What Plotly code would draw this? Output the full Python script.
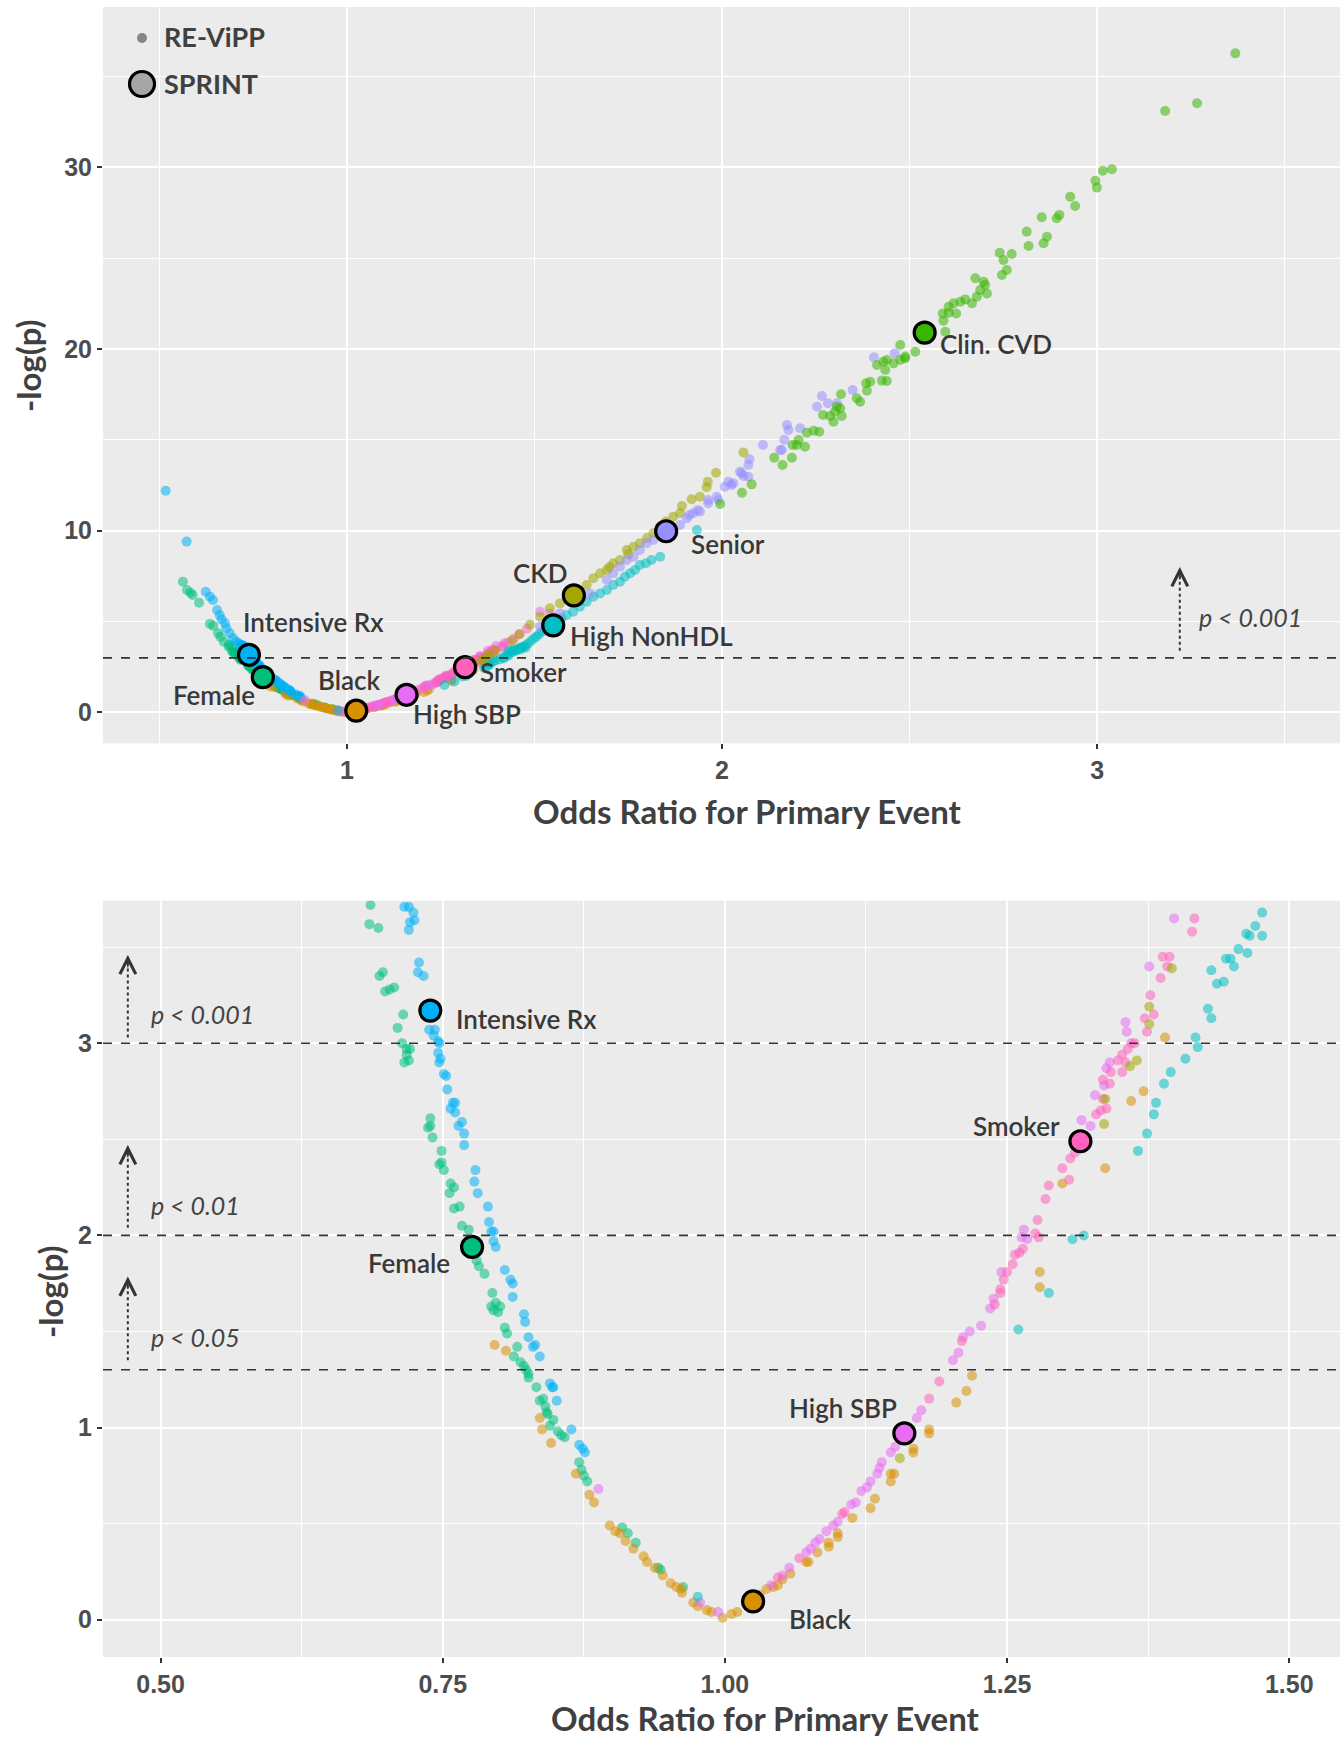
import plotly.graph_objects as go

# ---------------- data ----------------
intrx_or = [0.517, 0.573, 0.624, 0.635, 0.643, 0.654, 0.661, 0.666, 0.675, 0.679, 0.688, 0.697, 0.705, 0.712,
            0.716, 0.720, 0.724, 0.721, 0.725, 0.720, 0.729, 0.728, 0.733, 0.738, 0.743, 0.742, 0.746, 0.747,
            0.746, 0.748, 0.747, 0.751, 0.753, 0.754, 0.759, 0.761, 0.757, 0.761, 0.764, 0.767, 0.769, 0.769,
            0.779, 0.778, 0.781, 0.790, 0.791, 0.793, 0.795, 0.795, 0.797, 0.805, 0.810, 0.812, 0.812, 0.822,
            0.823, 0.826, 0.830, 0.832, 0.836, 0.845, 0.847, 0.848, 0.851, 0.864, 0.871, 0.874, 0.876]
intrx_lp = [12.2, 9.40, 6.64, 6.37, 6.19, 5.64, 5.36, 5.12, 4.90, 4.63, 4.35, 4.08, 3.90, 3.80,
            3.71, 3.71, 3.68, 3.63, 3.64, 3.59, 3.42, 3.37, 3.35, 3.07, 3.07, 3.04, 3.01, 3.00,
            2.95, 2.92, 2.90, 2.84, 2.83, 2.76, 2.69, 2.69, 2.66, 2.64, 2.57, 2.59, 2.53, 2.47,
            2.34, 2.28, 2.22, 2.15, 2.07, 2.02, 2.02, 1.97, 1.94, 1.82, 1.77, 1.75, 1.68, 1.59,
            1.55, 1.47, 1.42, 1.43, 1.37, 1.23, 1.21, 1.21, 1.14, 0.99, 0.91, 0.89, 0.87]

female_or = [0.563, 0.574, 0.583, 0.589, 0.606, 0.635, 0.644, 0.657, 0.663, 0.672, 0.686, 0.685, 0.693,
             0.697, 0.694, 0.699, 0.703, 0.707, 0.715, 0.710, 0.714, 0.718, 0.721, 0.718, 0.716, 0.720,
             0.739, 0.737, 0.739, 0.741, 0.749, 0.749, 0.747, 0.751, 0.757, 0.760, 0.756, 0.760, 0.765,
             0.767, 0.773, 0.780, 0.782, 0.787, 0.794, 0.793, 0.797, 0.801, 0.799, 0.795, 0.805, 0.807,
             0.816, 0.813, 0.819, 0.822, 0.824, 0.826, 0.826, 0.833, 0.836, 0.839, 0.841, 0.842, 0.843,
             0.848, 0.845, 0.852, 0.855, 0.858, 0.871, 0.873, 0.875, 0.878, 0.909, 0.914, 0.921, 0.941,
             0.943, 0.963]
female_lp = [7.19, 6.74, 6.59, 6.46, 6.04, 4.87, 4.76, 4.35, 4.17, 3.89, 3.72, 3.62, 3.60,
             3.37, 3.35, 3.27, 3.28, 3.29, 3.15, 3.08, 3.00, 2.97, 2.97, 2.94, 2.90, 2.91,
             2.61, 2.56, 2.57, 2.51, 2.44, 2.38, 2.37, 2.34, 2.27, 2.25, 2.22, 2.14, 2.15,
             2.05, 2.03, 1.87, 1.84, 1.80, 1.70, 1.63, 1.65, 1.63, 1.60, 1.61, 1.52, 1.49,
             1.42, 1.37, 1.34, 1.32, 1.30, 1.28, 1.26, 1.21, 1.14, 1.15, 1.11, 1.08, 1.07,
             1.04, 1.01, 0.98, 0.96, 0.95, 0.82, 0.78, 0.75, 0.72, 0.48, 0.45, 0.40, 0.27,
             0.26, 0.17]

black_or = [0.796, 0.806, 0.836, 0.838, 0.846, 0.868, 0.880, 0.884, 0.898, 0.903, 0.907, 0.912, 0.919,
            0.928, 0.931, 0.938, 0.945, 0.952, 0.957, 0.962, 0.961, 0.972, 0.976, 0.984, 0.988, 0.998,
            1.006, 1.011, 1.031, 1.037, 1.043, 1.047, 1.051, 1.058, 1.072, 1.074, 1.082, 1.092, 1.092,
            1.100, 1.100, 1.113, 1.129, 1.133, 1.147, 1.150, 1.147, 1.167, 1.167, 1.181, 1.181, 1.205,
            1.214, 1.219, 1.279, 1.279, 1.299, 1.337, 1.360, 1.371, 1.390]
black_lp = [1.43, 1.40, 1.05, 0.99, 0.92, 0.76, 0.65, 0.61, 0.49, 0.46, 0.45, 0.41, 0.37,
            0.33, 0.30, 0.27, 0.23, 0.19, 0.17, 0.14, 0.16, 0.09, 0.07, 0.05, 0.04, 0.01,
            0.03, 0.04, 0.13, 0.16, 0.17, 0.18, 0.21, 0.24, 0.30, 0.30, 0.35, 0.40, 0.38,
            0.45, 0.43, 0.53, 0.58, 0.63, 0.76, 0.76, 0.72, 0.89, 0.87, 0.99, 0.97, 1.13,
            1.19, 1.27, 1.81, 1.73, 2.27, 2.35, 2.70, 2.75, 3.03]

highsbp_or = [0.888, 0.978, 0.994, 1.041, 1.051, 1.057, 1.072, 1.076, 1.080, 1.084, 1.090, 1.096, 1.100,
              1.112, 1.116, 1.121, 1.126, 1.129, 1.135, 1.137, 1.139, 1.147, 1.151, 1.170, 1.174, 1.202,
              1.207, 1.211, 1.217, 1.227, 1.235, 1.238, 1.245, 1.263, 1.265, 1.268, 1.316, 1.324, 1.328,
              1.336, 1.338, 1.341, 1.355, 1.356, 1.376, 1.398, 1.420, 1.515, 1.541]
highsbp_lp = [0.68, 0.09, 0.04, 0.18, 0.23, 0.27, 0.35, 0.37, 0.40, 0.42, 0.46, 0.49, 0.51,
              0.60, 0.61, 0.67, 0.69, 0.72, 0.76, 0.79, 0.82, 0.87, 0.90, 1.05, 1.09, 1.35,
              1.39, 1.47, 1.50, 1.53, 1.62, 1.67, 1.81, 1.99, 2.03, 1.98, 2.60, 2.57, 2.73,
              2.78, 2.87, 2.90, 3.11, 3.06, 3.40, 3.65, 3.80, 5.54, 5.45]

smoker_or = [1.047, 1.066, 1.104, 1.106, 1.181, 1.190, 1.210, 1.239, 1.244, 1.244, 1.247, 1.250, 1.255,
             1.257, 1.261, 1.264, 1.275, 1.278, 1.277, 1.284, 1.287, 1.305, 1.299, 1.306, 1.310, 1.329,
             1.333, 1.338, 1.335, 1.335, 1.341, 1.342, 1.352, 1.355, 1.348, 1.352, 1.357, 1.360, 1.363,
             1.374, 1.372, 1.380, 1.377, 1.386, 1.392, 1.388, 1.394, 1.414, 1.416, 1.430, 1.445, 1.460,
             1.480]
smoker_lp = [0.22, 0.32, 0.55, 0.56, 1.15, 1.24, 1.45, 1.64, 1.72, 1.70, 1.77, 1.81, 1.85,
             1.90, 1.91, 1.93, 2.01, 1.99, 2.08, 2.19, 2.26, 2.29, 2.35, 2.40, 2.43, 2.63,
             2.65, 2.66, 2.71, 2.81, 2.79, 2.85, 2.85, 2.90, 2.91, 2.94, 2.97, 3.00, 3.00,
             3.06, 3.13, 3.15, 3.25, 3.34, 3.40, 3.45, 3.45, 3.58, 3.65, 3.85, 4.05, 4.30,
             4.60]

nonhdl_or = [0.976, 1.260, 1.287, 1.308, 1.318, 1.366, 1.374, 1.380, 1.382, 1.389, 1.395, 1.408, 1.419,
             1.417, 1.428, 1.431, 1.436, 1.442, 1.431, 1.451, 1.444, 1.448, 1.463, 1.455, 1.462, 1.465,
             1.476, 1.470, 1.476, 1.482, 1.490, 1.497, 1.505, 1.512, 1.520, 1.528, 1.540, 1.560, 1.572,
             1.586, 1.603, 1.621, 1.639, 1.657, 1.675, 1.693, 1.710, 1.728, 1.741, 1.755, 1.768, 1.781,
             1.797, 1.812, 1.835, 1.933]
nonhdl_lp = [0.12, 1.51, 1.70, 1.98, 2.00, 2.44, 2.53, 2.63, 2.69, 2.79, 2.85, 2.92, 2.98,
             3.03, 3.18, 3.13, 3.31, 3.32, 3.38, 3.40, 3.44, 3.44, 3.47, 3.49, 3.57, 3.56,
             3.56, 3.61, 3.68, 3.78, 3.92, 4.05, 4.17, 4.30, 4.44, 4.58, 4.70, 5.00, 5.18,
             5.36, 5.54, 5.82, 6.09, 6.37, 6.55, 6.74, 7.01, 7.19, 7.47, 7.66, 7.84, 8.11,
             8.21, 8.39, 8.57, 10.04]

ckd_or = [1.155, 1.336, 1.337, 1.359, 1.365, 1.376, 1.376, 1.396, 1.440, 1.460, 1.488, 1.515, 1.541,
          1.568, 1.620, 1.639, 1.657, 1.675, 1.693, 1.700, 1.710, 1.728, 1.746, 1.750, 1.764, 1.781,
          1.800, 1.817, 1.835, 1.850, 1.870, 1.888, 1.893, 1.919, 1.941, 1.959, 1.962, 1.984, 2.057]
ckd_lp = [0.84, 2.58, 2.71, 2.88, 2.91, 3.10, 3.19, 3.39, 3.95, 4.30, 4.82, 5.27, 5.73,
          6.00, 6.70, 7.01, 7.38, 7.66, 7.84, 8.00, 8.21, 8.39, 8.94, 8.70, 9.12, 9.31,
          9.60, 9.86, 10.22, 10.50, 10.77, 10.96, 11.36, 11.73, 11.87, 12.39, 12.70, 13.19, 14.31]

senior_or = [1.515, 1.541, 1.568, 1.603, 1.648, 1.693, 1.710, 1.728, 1.746, 1.764, 1.781, 1.799, 1.817,
             1.888, 1.906, 1.913, 1.923, 1.935, 1.941, 1.963, 1.963, 1.986, 1.990, 2.007, 2.017, 2.025,
             2.030, 2.048, 2.052, 2.057, 2.070, 2.070, 2.073, 2.109, 2.155, 2.159, 2.166, 2.173, 2.177,
             2.208, 2.253, 2.266, 2.282, 2.306, 2.348, 2.405, 2.460]
senior_lp = [4.72, 5.09, 5.45, 6.00, 6.55, 7.29, 7.66, 8.02, 8.39, 8.57, 8.94, 9.31, 9.49,
             10.31, 10.68, 10.86, 10.96, 11.14, 11.05, 11.51, 11.69, 11.87, 11.69, 12.42, 12.70, 12.51,
             12.61, 13.25, 13.16, 13.01, 12.97, 13.62, 13.93, 14.72, 14.44, 14.44, 15.00, 15.82, 15.54,
             15.64, 16.82, 17.41, 17.01, 17.01, 17.74, 19.54, 19.76]

cvd_or = [1.995, 2.053, 2.079, 2.139, 2.161, 2.186, 2.188, 2.199, 2.221, 2.204, 2.226, 2.244, 2.259,
          2.269, 2.288, 2.301, 2.319, 2.297, 2.315, 2.306, 2.317, 2.359, 2.368, 2.386, 2.395, 2.384,
          2.426, 2.439, 2.435, 2.430, 2.413, 2.439, 2.457, 2.475, 2.488, 2.515, 2.475, 2.488, 2.595,
          2.590, 2.604, 2.588, 2.624, 2.604, 2.617, 2.635, 2.648, 2.666, 2.675, 2.688, 2.697, 2.706,
          2.679, 2.701, 2.740, 2.750, 2.759, 2.746, 2.772, 2.812, 2.817, 2.857, 2.866, 2.852, 2.892,
          2.899, 2.941, 2.928, 2.995, 2.999, 3.015, 3.039, 3.181, 3.266, 3.368]
cvd_lp = [11.47, 12.09, 12.55, 14.02, 13.62, 14.02, 14.72, 14.72, 14.62, 14.99, 15.39, 15.50, 15.45,
          16.37, 16.31, 16.55, 16.31, 16.00, 16.74, 16.82, 17.51, 17.29, 17.10, 17.71, 18.20, 18.11,
          18.26, 18.24, 18.84, 19.30, 19.12, 19.39, 19.21, 19.39, 19.58, 19.85, 20.22, 19.49, 20.95,
          21.56, 22.00, 21.95, 21.95, 22.33, 22.51, 22.60, 22.73, 22.51, 23.89, 23.24, 23.70, 23.06,
          22.88, 23.53, 25.30, 24.90, 24.35, 24.07, 25.23, 26.46, 25.67, 25.82, 26.18, 27.25, 27.19,
          27.38, 27.87, 28.38, 29.26, 28.88, 29.81, 29.89, 33.10, 33.52, 36.27]

categories = ["Female", "Black", "Intensive Rx", "High SBP", "Smoker", "High NonHDL", "CKD", "Senior", "Clin. CVD"]
revipp_or = [female_or, black_or, intrx_or, highsbp_or, smoker_or, nonhdl_or, ckd_or, senior_or, cvd_or]
revipp_lp = [female_lp, black_lp, intrx_lp, highsbp_lp, smoker_lp, nonhdl_lp, ckd_lp, senior_lp, cvd_lp]

sprint_cat = ["Intensive Rx", "Female", "Black", "High SBP", "Smoker", "High NonHDL", "CKD", "Senior", "Clin. CVD"]
sprint_or = [0.739, 0.776, 1.025, 1.159, 1.315, 1.550, 1.605, 1.851, 2.540]
sprint_lp = [3.17, 1.94, 0.095, 0.97, 2.49, 4.79, 6.44, 9.97, 20.9]

threshold_labels = ["p < 0.05", "p < 0.01", "p < 0.001"]
threshold_lp = [1.30103, 2.0, 3.0]

# ---------------- styling ----------------
COLORS = {
    "Black": "#D89000", "CKD": "#A3A500", "Clin. CVD": "#39B600", "Female": "#00BF7D",
    "High NonHDL": "#00BFC4", "Intensive Rx": "#00B0F6", "Senior": "#9590FF",
    "High SBP": "#E76BF3", "Smoker": "#FF62BC",
}
TXT = "#383838"
W, H = 1343, 1739
ML, MR, MT, MB = 103, 3, 7, 82
PW, PH = W - ML - MR, H - MT - MB


def px(x):
    return (x - ML) / PW


def py(y):
    return (H - MB - y) / PH


fig = go.Figure()

for ax_sfx in ["", "2"]:
    for cat, xs, ys in zip(categories, revipp_or, revipp_lp):
        fig.add_trace(go.Scatter(
            x=xs, y=ys, mode="markers", xaxis="x" + ax_sfx, yaxis="y" + ax_sfx,
            marker=dict(size=10, color=COLORS[cat], opacity=0.55, line=dict(width=0)),
            showlegend=False, hoverinfo="x+y", name=cat))
    fig.add_trace(go.Scatter(
        x=sprint_or, y=sprint_lp, mode="markers", xaxis="x" + ax_sfx, yaxis="y" + ax_sfx,
        marker=dict(size=21, color=[COLORS[c] for c in sprint_cat], line=dict(width=3.2, color="black")),
        showlegend=False, hovertext=sprint_cat, name="SPRINT"))

grid = dict(showgrid=True, gridcolor="white", gridwidth=2.2, zeroline=False,
            ticks="outside", ticklen=5, tickwidth=1.6, tickcolor="#333333",
            tickfont=dict(family="Liberation Sans", size=25, color="#4D4D4D", weight="bold"),
            showline=False)

fig.update_layout(
    width=W, height=H, margin=dict(l=ML, r=MR, t=MT, b=MB),
    paper_bgcolor="white", plot_bgcolor="#EBEBEB", showlegend=False,
    xaxis=dict(domain=[0, 1], anchor="y", range=[0.35, 3.647], tickvals=[1, 2, 3],
               minor=dict(tickvals=[0.5, 1.5, 2.5, 3.5], showgrid=True, gridcolor="white", gridwidth=1.1), **grid),
    yaxis=dict(domain=[py(743.3), 1], anchor="x", range=[-1.70, 38.82], tickvals=[0, 10, 20, 30],
               minor=dict(tickvals=[5, 15, 25, 35], showgrid=True, gridcolor="white", gridwidth=1.1), **grid),
    xaxis2=dict(domain=[0, 1], anchor="y2", range=[0.449, 1.545], tickvals=[0.5, 0.75, 1.0, 1.25, 1.5],
                ticktext=["0.50", "0.75", "1.00", "1.25", "1.50"],
                minor=dict(tickvals=[0.625, 0.875, 1.125, 1.375], showgrid=True, gridcolor="white", gridwidth=1.1),
                **grid),
    yaxis2=dict(domain=[0, py(900.7)], anchor="x2", range=[-0.194, 3.742], tickvals=[0, 1, 2, 3],
                minor=dict(tickvals=[0.5, 1.5, 2.5, 3.5], showgrid=True, gridcolor="white", gridwidth=1.1),
                **grid),
)

shapes = []
annotations = []

# threshold dashed lines
shapes.append(dict(type="line", xref="x domain", yref="y", x0=0, x1=1, y0=threshold_lp[2], y1=threshold_lp[2],
                   line=dict(color="#333333", width=1.6, dash="dash")))
for t in threshold_lp:
    shapes.append(dict(type="line", xref="x2 domain", yref="y2", x0=0, x1=1, y0=t, y1=t,
                       line=dict(color="#333333", width=1.6, dash="dash")))


def arrow(xref, yref, x, y0, y1, label, lx, ly):
    shapes.append(dict(type="line", xref=xref, yref=yref, x0=x, x1=x, y0=y0, y1=y1,
                       line=dict(color="#333333", width=2, dash="dot")))
    annotations.append(dict(xref=xref, yref=yref, x=x, y=y1, ax=0, ay=14, text="", showarrow=True,
                            arrowhead=5, arrowsize=2.6, arrowwidth=1.2, arrowcolor="#333333"))
    annotations.append(dict(xref=xref, yref=yref, x=lx, y=ly, text=label, showarrow=False,
                            xanchor="left", yanchor="middle",
                            font=dict(family="Lato", size=25, color="#444444", style="italic")))


arrow("x", "y", 3.22, 3.4, 8.0, threshold_labels[2], 3.267, 5.25)
arrow("x2", "y2", 0.471, 3.03, 3.46, threshold_labels[2], 0.490, 3.15)
arrow("x2", "y2", 0.471, 2.04, 2.47, threshold_labels[1], 0.490, 2.16)
arrow("x2", "y2", 0.471, 1.35, 1.786, threshold_labels[0], 0.490, 1.47)

# labels next to SPRINT points: (xanchor, xshift, yshift)
top_lab = {"Intensive Rx": ("left", -8, 33), "Female": ("right", -6, -18), "Black": ("center", -7, 31),
           "High SBP": ("left", 4, -19), "Smoker": ("left", 13, -5), "High NonHDL": ("left", 15, -11),
           "CKD": ("center", -33, 22), "Senior": ("left", 23, -13), "Clin. CVD": ("left", 13, -11)}
bot_lab = {"Intensive Rx": ("left", 24, -8), "Female": ("right", -20, -16), "Black": ("left", 34, -18),
           "High SBP": ("right", -5, 25), "Smoker": ("right", -18, 15)}
lab_font = dict(family="Lato", size=26, color=TXT, weight=600)
for c, xo, yo in zip(sprint_cat, sprint_or, sprint_lp):
    xa, dx, dy = top_lab[c]
    annotations.append(dict(xref="x", yref="y", x=xo, y=yo, text=c, showarrow=False, xanchor=xa,
                            yanchor="middle", xshift=dx, yshift=dy, font=lab_font))
    if c in bot_lab:
        xa, dx, dy = bot_lab[c]
        annotations.append(dict(xref="x2", yref="y2", x=xo, y=yo, text=c, showarrow=False, xanchor=xa,
                                yanchor="middle", xshift=dx, yshift=dy, font=lab_font))

# axis titles
title_font = dict(family="Lato", size=33, color="#404040", weight="bold")
annotations.append(dict(xref="paper", yref="paper", x=px(747), y=py(811), text="Odds Ratio for Primary Event",
                        showarrow=False, xanchor="center", yanchor="middle", font=title_font))
annotations.append(dict(xref="paper", yref="paper", x=px(765), y=py(1718), text="Odds Ratio for Primary Event",
                        showarrow=False, xanchor="center", yanchor="middle", font=title_font))
annotations.append(dict(xref="paper", yref="paper", x=px(28), y=py(366), text="-log(p)", textangle=-90,
                        showarrow=False, xanchor="center", yanchor="middle", font=title_font))
annotations.append(dict(xref="paper", yref="paper", x=px(50), y=py(1292), text="-log(p)", textangle=-90,
                        showarrow=False, xanchor="center", yanchor="middle", font=title_font))

# legend (top-left, inside upper panel)
shapes.append(dict(type="circle", xref="paper", yref="paper", xsizemode="pixel", ysizemode="pixel",
                   xanchor=px(142), yanchor=py(38), x0=-5, x1=5, y0=-5, y1=5,
                   fillcolor="#858585", line=dict(width=0)))
shapes.append(dict(type="circle", xref="paper", yref="paper", xsizemode="pixel", ysizemode="pixel",
                   xanchor=px(142), yanchor=py(84), x0=-12.5, x1=12.5, y0=-12.5, y1=12.5,
                   fillcolor="#A6A6A6", line=dict(width=3.2, color="black")))
leg_font = dict(family="Lato", size=27, color="#404040", weight="bold")
annotations.append(dict(xref="paper", yref="paper", x=px(162), y=py(36), text="RE-ViPP", showarrow=False,
                        xanchor="left", yanchor="middle", font=leg_font))
annotations.append(dict(xref="paper", yref="paper", x=px(162), y=py(84), text="SPRINT", showarrow=False,
                        xanchor="left", yanchor="middle", font=leg_font))

fig.update_layout(shapes=shapes, annotations=annotations)
fig.write_html("out.html", config={"displayModeBar": False},
               post_script="document.body.style.margin='0px';document.body.style.overflow='hidden';")
